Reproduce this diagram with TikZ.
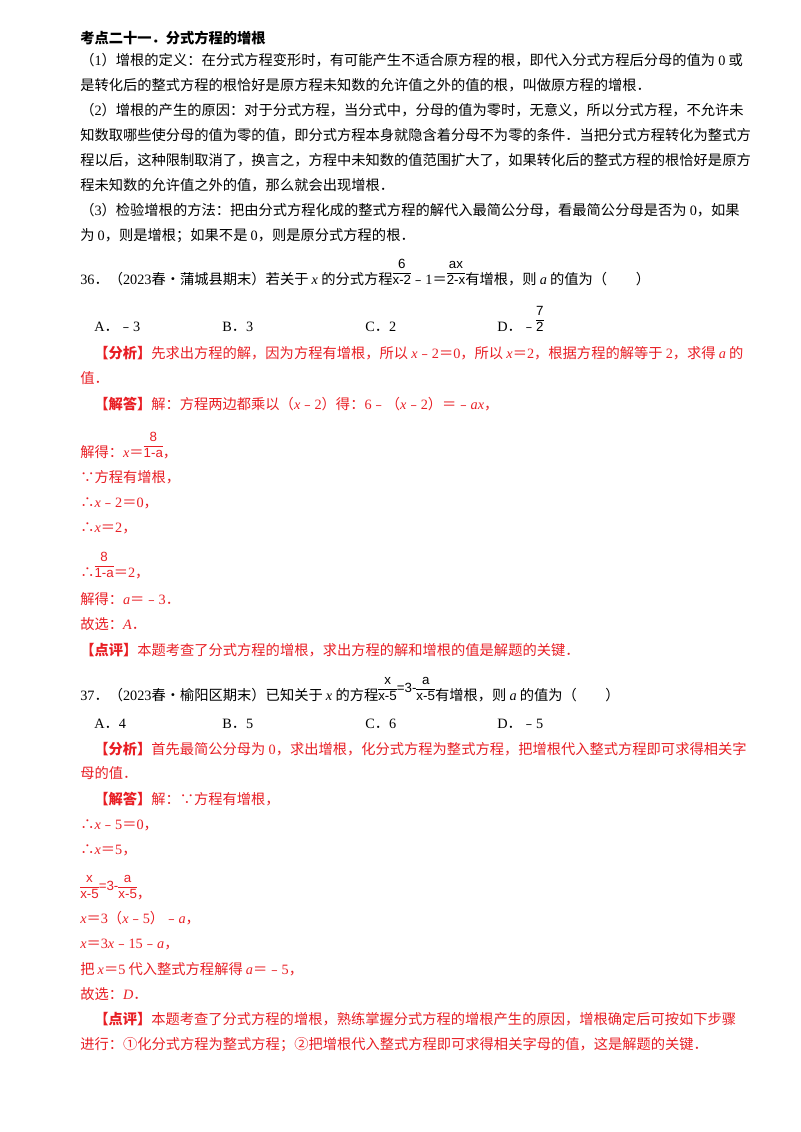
\documentclass[tikz,border=0pt]{standalone}
\usepackage{fontspec}
\setmainfont{Noto Sans CJK SC}
\newfontfamily\tms{Liberation Serif}
\newfontfamily\frf{Liberation Sans}
\newcommand\mx[1]{{\tms\itshape #1}}
\newcommand\nm[1]{{\tms #1}}
\newcommand\fr[2]{{\frf\fontsize{10}{11}\selectfont\renewcommand\arraystretch{1.05}\begin{tabular}[b]{@{}c@{}}#1\\\hline #2\end{tabular}}}
\newcommand\eqm{\raisebox{6pt}{\frf\fontsize{10}{11}\selectfont =3-}}
\definecolor{ans}{RGB}{232,30,36}
\begin{document}
\begin{tikzpicture}[x=0.75pt,y=-0.75pt,
  every node/.style={anchor=base west,inner sep=0pt,font=\fontsize{10.7}{13}\selectfont},
  rd/.style={text=ans}]
\useasboundingbox (0,0) rectangle (800,1132);
\node (t0) at (80,43) {\bfseries 考点二十一．分式方程的增根};
\node (a1) at (80,65) {（\nm{1}）增根的定义：在分式方程变形时，有可能产生不适合原方程的根，即代入分式方程后分母的值为 \nm{0} 或};
\node (a2) at (80,90) {是转化后的整式方程的根恰好是原方程未知数的允许值之外的值的根，叫做原方程的增根．};
\node (a3) at (80,115) {（\nm{2}）增根的产生的原因：对于分式方程，当分式中，分母的值为零时，无意义，所以分式方程，不允许未};
\node (a4) at (80,140) {知数取哪些使分母的值为零的值，即分式方程本身就隐含着分母不为零的条件．当把分式方程转化为整式方};
\node (a5) at (80,165) {程以后，这种限制取消了，换言之，方程中未知数的值范围扩大了，如果转化后的整式方程的根恰好是原方};
\node (a6) at (80,190) {程未知数的允许值之外的值，那么就会出现增根．};
\node (a7) at (80,215) {（\nm{3}）检验增根的方法：把由分式方程化成的整式方程的解代入最简公分母，看最简公分母是否为 \nm{0}，如果};
\node (a8) at (80,240) {为 \nm{0}，则是增根；如果不是 \nm{0}，则是原分式方程的根．};
% Q36
\node (q36) at (80,284) {\nm{36}．（\nm{2023}春\textbullet 蒲城县期末）若关于 \mx{x} 的分式方程\fr{6}{x-2}﹣\nm{1}＝\fr{ax}{2-x}有增根，则 \mx{a} 的值为（　　）};
\node (oA) at (94,331) {\nm{A}．﹣\nm{3}};
\node (oB) at (222,331) {\nm{B}．\nm{3}};
\node (oC) at (365,331) {\nm{C}．\nm{2}};
\node (oD) at (497,331) {\nm{D}．﹣\fr{7}{2}};
\node[rd] (f1) at (94,358) {\bfseries【分析】\mdseries 先求出方程的解，因为方程有增根，所以 \mx{x}﹣\nm{2}＝\nm{0}，所以 \mx{x}＝\nm{2}，根据方程的解等于 \nm{2}，求得 \mx{a} 的};
\node[rd] (f2) at (80,383) {值．};
\node[rd] (s1) at (94,409) {\bfseries【解答】\mdseries 解：方程两边都乘以（\mx{x}﹣\nm{2}）得：\nm{6}﹣（\mx{x}﹣\nm{2}）＝﹣\mx{ax}，};
\node[rd] (s2) at (80,457) {解得：\mx{x}＝\fr{8}{1-a}，};
\node[rd] (s3) at (80,482) {∵方程有增根，};
\node[rd] (s4) at (80,507) {∴\mx{x}﹣\nm{2}＝\nm{0}，};
\node[rd] (s5) at (80,532) {∴\mx{x}＝\nm{2}，};
\node[rd] (s6) at (80,577) {∴\fr{8}{1-a}＝\nm{2}，};
\node[rd] (s7) at (80,604) {解得：\mx{a}＝﹣\nm{3}．};
\node[rd] (s8) at (80,629) {故选：\mx{A}．};
\node[rd] (p1) at (80,655) {\bfseries【点评】\mdseries 本题考查了分式方程的增根，求出方程的解和增根的值是解题的关键．};
% Q37
\node (q37) at (80,700) {\nm{37}．（\nm{2023}春\textbullet 榆阳区期末）已知关于 \mx{x} 的方程\fr{x}{x-5}\eqm\fr{a}{x-5}有增根，则 \mx{a} 的值为（　　）};
\node (pA) at (94,728) {\nm{A}．\nm{4}};
\node (pB) at (222,728) {\nm{B}．\nm{5}};
\node (pC) at (365,728) {\nm{C}．\nm{6}};
\node (pD) at (497,728) {\nm{D}．﹣\nm{5}};
\node[rd] (g1) at (94,754) {\bfseries【分析】\mdseries 首先最简公分母为 \nm{0}，求出增根，化分式方程为整式方程，把增根代入整式方程即可求得相关字};
\node[rd] (g2) at (80,778) {母的值．};
\node[rd] (u1) at (94,804) {\bfseries【解答】\mdseries 解：∵方程有增根，};
\node[rd] (u2) at (80,829) {∴\mx{x}﹣\nm{5}＝\nm{0}，};
\node[rd] (u3) at (80,854) {∴\mx{x}＝\nm{5}，};
\node[rd] (u4) at (80,898) {\fr{x}{x-5}\eqm\fr{a}{x-5}，};
\node[rd] (u5) at (80,923) {\mx{x}＝\nm{3}（\mx{x}﹣\nm{5}）﹣\mx{a}，};
\node[rd] (u6) at (80,948) {\mx{x}＝\nm{3}\mx{x}﹣\nm{15}﹣\mx{a}，};
\node[rd] (u7) at (80,974) {把 \mx{x}＝\nm{5} 代入整式方程解得 \mx{a}＝﹣\nm{5}，};
\node[rd] (u8) at (80,999) {故选：\mx{D}．};
\node[rd] (r1) at (94,1024) {\bfseries【点评】\mdseries 本题考查了分式方程的增根，熟练掌握分式方程的增根产生的原因，增根确定后可按如下步骤};
\node[rd] (r2) at (80,1049) {进行：①化分式方程为整式方程；②把增根代入整式方程即可求得相关字母的值，这是解题的关键．};
\end{tikzpicture}
\end{document}
